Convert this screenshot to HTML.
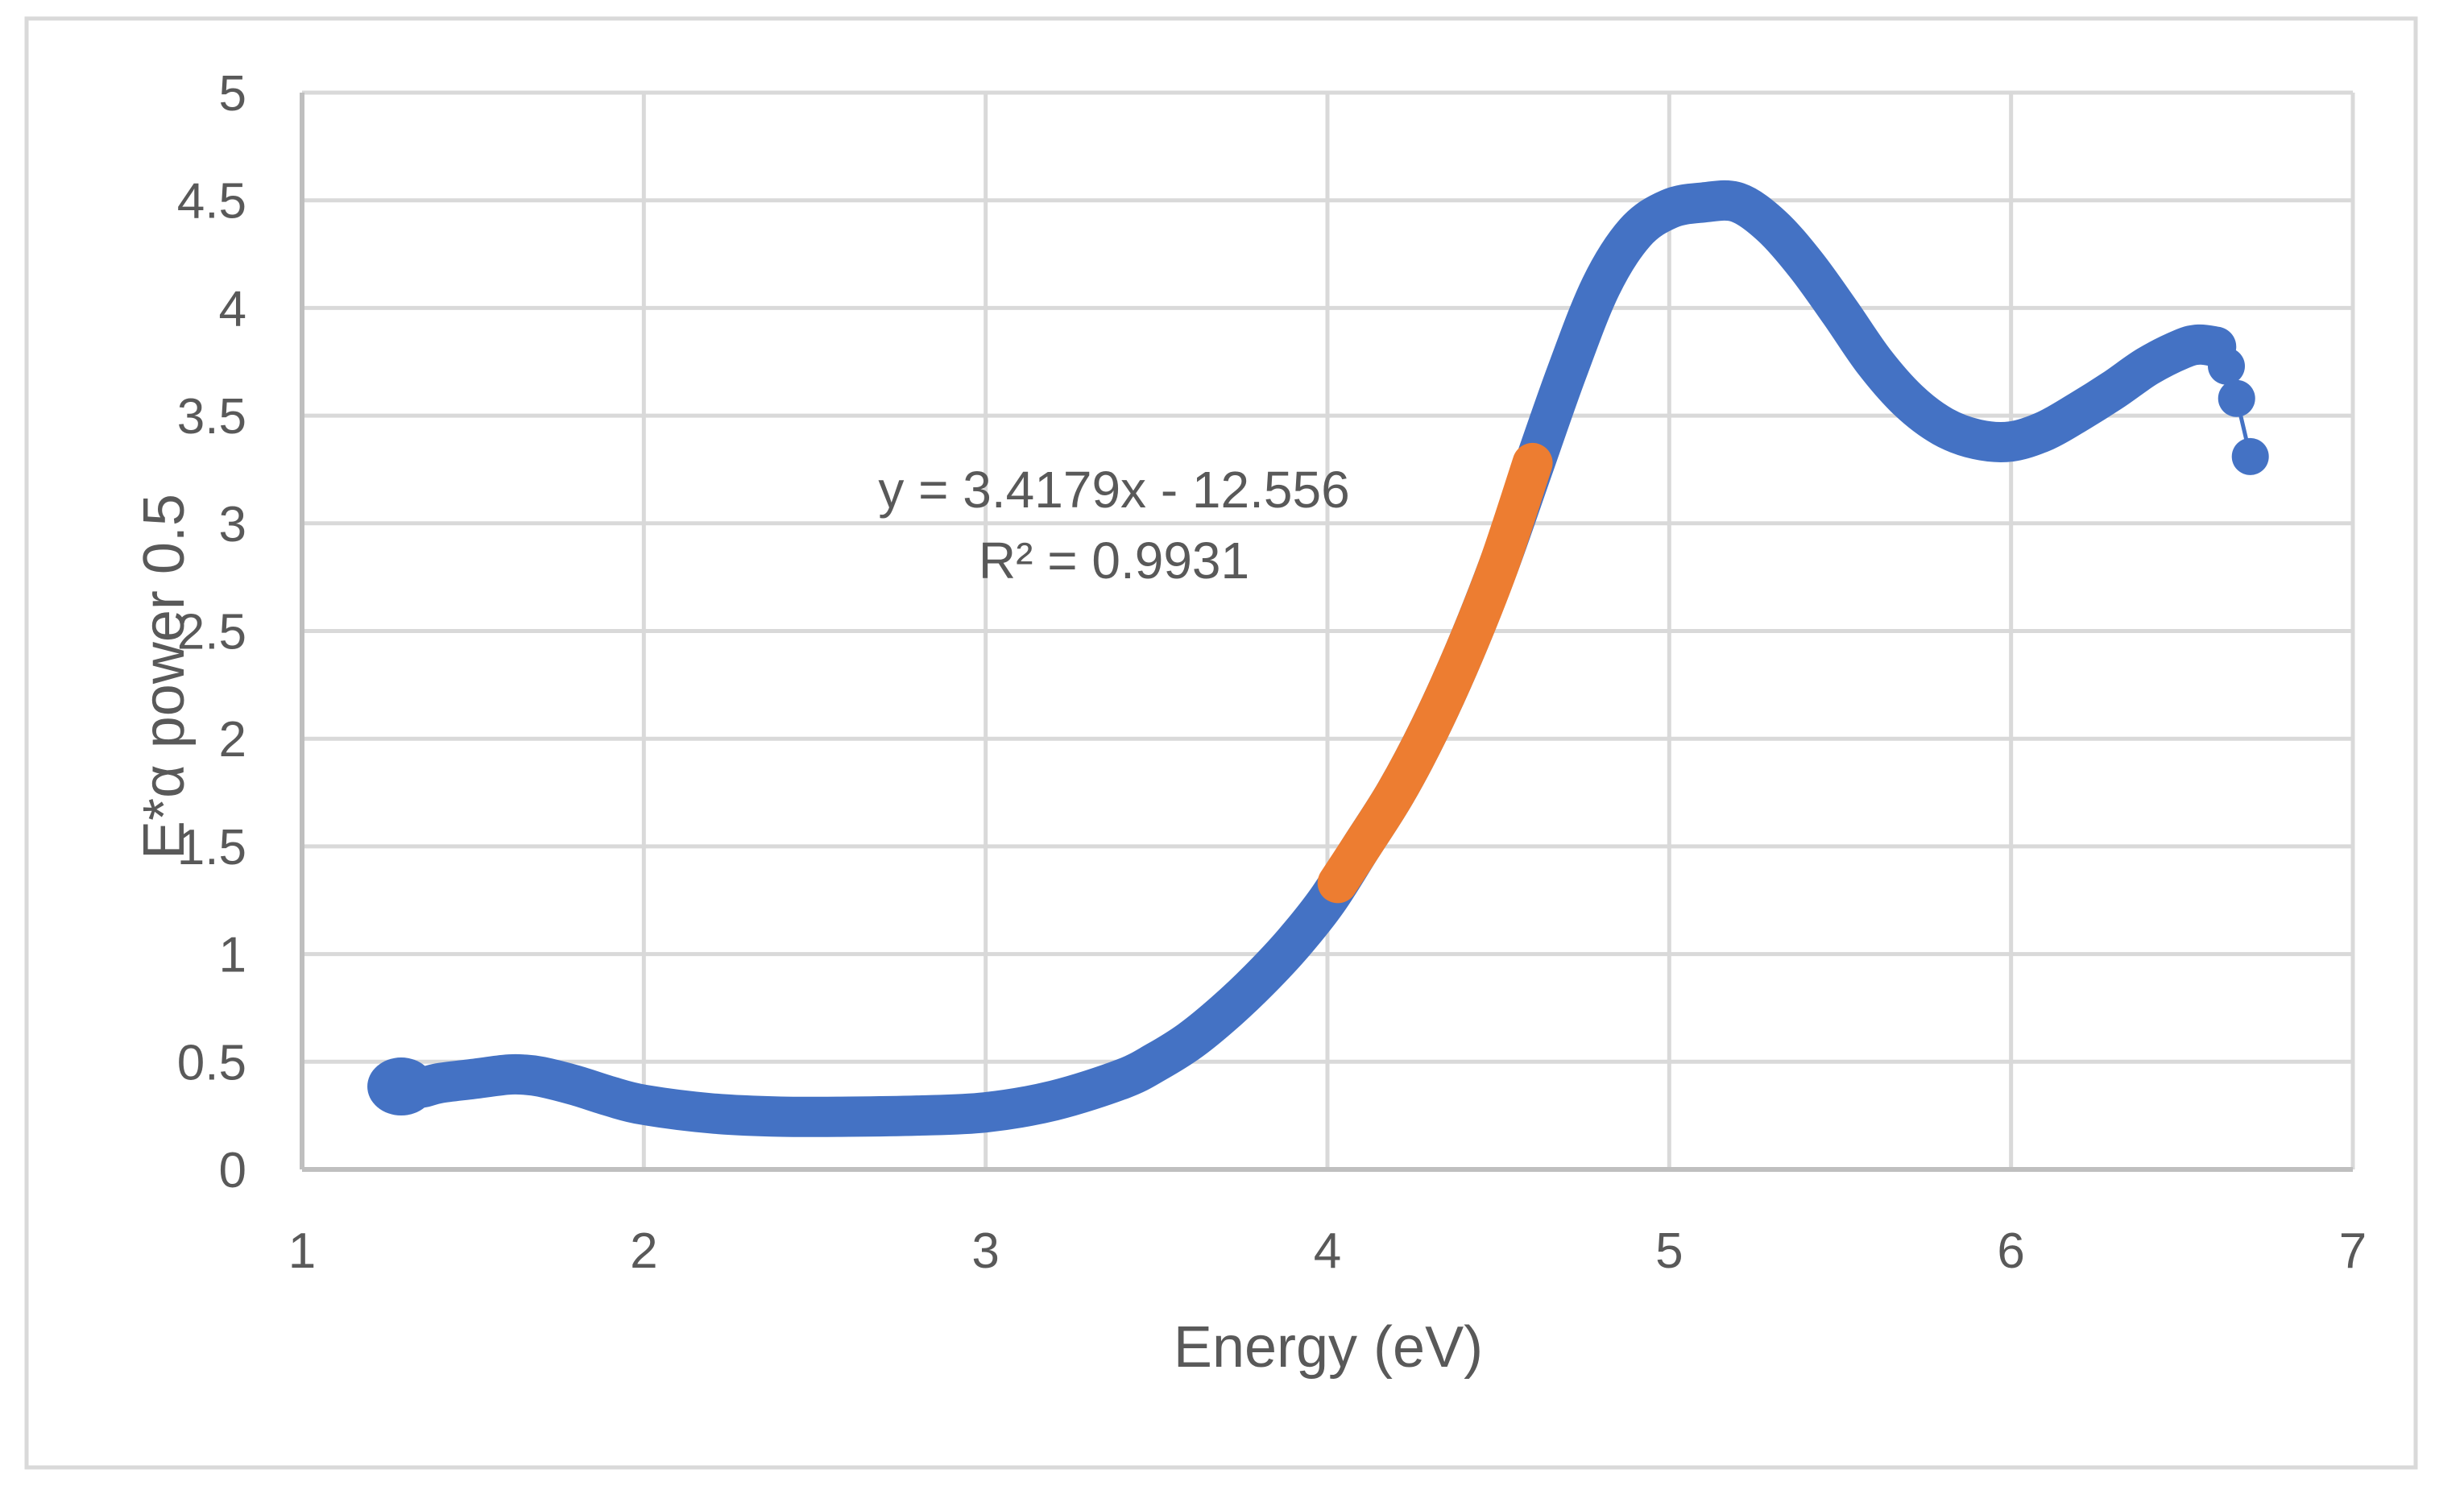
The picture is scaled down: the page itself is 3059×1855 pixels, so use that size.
<!DOCTYPE html>
<html><head><meta charset="utf-8"><style>
html,body{margin:0;padding:0;background:#fff;}
svg{display:block;}
text{font-family:"Liberation Sans",sans-serif;fill:#595959;}
</style></head><body>
<svg id="chart" width="3059" height="1855" viewBox="0 0 3059 1855" xmlns="http://www.w3.org/2000/svg">
<rect x="33" y="23" width="2966" height="1799" fill="#fff" stroke="#d9d9d9" stroke-width="5"/>
<g id="grid"></g>
<g id="axes"></g>
<g id="series"></g>
<text x="1383" y="630" font-size="64" text-anchor="middle">y = 3.4179x - 12.556</text>
<text x="1383" y="718" font-size="64" text-anchor="middle">R² = 0.9931</text>
<text x="1649" y="1697" font-size="72" text-anchor="middle">Energy (eV)</text>
<text transform="translate(228,840) rotate(-90)" font-size="72" text-anchor="middle">E*α power 0.5</text>
</svg>
<script>
const xTicks = [1,2,3,4,5,6,7];
const yTicks = [0,0.5,1,1.5,2,2.5,3,3.5,4,4.5,5];
const yTickLabels = ["0","0.5","1","1.5","2","2.5","3","3.5","4","4.5","5"];
const blueX = [1.27,1.3,1.35,1.4,1.5,1.6,1.65,1.7,1.8,1.9,2.0,2.2,2.4,2.6,2.8,3.0,3.2,3.4,3.5,3.6,3.7,3.8,3.9,4.0,4.1,4.2,4.3,4.4,4.5,4.6,4.7,4.8,4.9,5.0,5.1,5.2,5.3,5.4,5.5,5.6,5.7,5.8,5.9,6.0,6.1,6.2,6.3,6.4,6.5,6.55,6.6];
const blueY = [0.38,0.38,0.38,0.40,0.42,0.44,0.44,0.43,0.39,0.34,0.30,0.26,0.245,0.245,0.25,0.265,0.32,0.42,0.50,0.60,0.73,0.88,1.05,1.25,1.50,1.75,2.05,2.40,2.80,3.25,3.70,4.10,4.35,4.46,4.49,4.49,4.38,4.20,3.98,3.75,3.57,3.45,3.39,3.38,3.43,3.52,3.62,3.73,3.81,3.83,3.82];
const tailX = [6.6,6.63,6.66,6.7];
const tailY = [3.82,3.73,3.58,3.31];
const orangeX = [4.03,4.1,4.2,4.3,4.4,4.5,4.6];
const orangeY = [1.33,1.50,1.75,2.05,2.40,2.80,3.28];

const X0=375,X1=2921,Y0=1452,Y1=115;
const sx=v=>X0+(v-1)/(7-1)*(X1-X0);
const sy=v=>Y0-(v-0)/(5-0)*(Y0-Y1);
const NS="http://www.w3.org/2000/svg";
function mk(tag,attrs,parent){const e=document.createElementNS(NS,tag);for(const k in attrs)e.setAttribute(k,attrs[k]);parent.appendChild(e);return e;}
const grid=document.getElementById('grid'),axes=document.getElementById('axes'),series=document.getElementById('series');
yTicks.forEach((t,i)=>{
  if(t>0){const l=mk('line',{x1:X0,x2:X1,y1:sy(t),y2:sy(t),stroke:'#d9d9d9','stroke-width':5},grid);
  
  }
  const tx=mk('text',{x:306,y:sy(t)+22,'font-size':62,'text-anchor':'end'},axes);
  tx.textContent=yTickLabels[i];
  
  
});
xTicks.forEach(t=>{
  if(t>1){const l=mk('line',{x1:sx(t),x2:sx(t),y1:Y1,y2:Y0,stroke:'#d9d9d9','stroke-width':5},grid);
  
  }
  const tx=mk('text',{x:sx(t),y:1574,'font-size':62,'text-anchor':'middle'},axes);
  tx.textContent=String(t);
  
  
});
const ax=mk('line',{x1:X0,x2:X1,y1:Y0,y2:Y0,stroke:'#bfbfbf','stroke-width':6},axes);


const ay=mk('line',{x1:X0,x2:X0,y1:Y1,y2:Y0,stroke:'#bfbfbf','stroke-width':6},axes);



function smooth(xs,ys){
  const p=xs.map((x,i)=>[sx(x),sy(ys[i])]);
  let d='M'+p[0][0]+','+p[0][1];
  for(let i=0;i<p.length-1;i++){
    const p0=p[Math.max(0,i-1)],p1=p[i],p2=p[i+1],p3=p[Math.min(p.length-1,i+2)];
    const c1=[p1[0]+(p2[0]-p0[0])/6,p1[1]+(p2[1]-p0[1])/6];
    const c2=[p2[0]-(p3[0]-p1[0])/6,p2[1]-(p3[1]-p1[1])/6];
    d+=' C'+c1[0]+','+c1[1]+' '+c2[0]+','+c2[1]+' '+p2[0]+','+p2[1];
  }
  return d;
}
function pts(xs,ys){return xs.map((x,i)=>sx(x)+','+sy(ys[i])).join(' ');}
const bb=mk('ellipse',{cx:sx(1.29),cy:sy(0.385),rx:42,ry:36,fill:'#4472c4'},series);


const bl=mk('path',{d:smooth(blueX,blueY),fill:'none',stroke:'#4472c4','stroke-width':50,'stroke-linecap':'round','stroke-linejoin':'round'},series);


const tl=mk('polyline',{points:pts(tailX,tailY),fill:'none',stroke:'#4472c4','stroke-width':5},series);


tailX.forEach((x,i)=>{const c=mk('circle',{cx:sx(x),cy:sy(tailY[i]),r:23,fill:'#4472c4'},series);

});
const ol=mk('path',{d:smooth(orangeX,orangeY),fill:'none',stroke:'#ed7d31','stroke-width':50,'stroke-linecap':'round','stroke-linejoin':'round'},series);


</script>
</body></html>
